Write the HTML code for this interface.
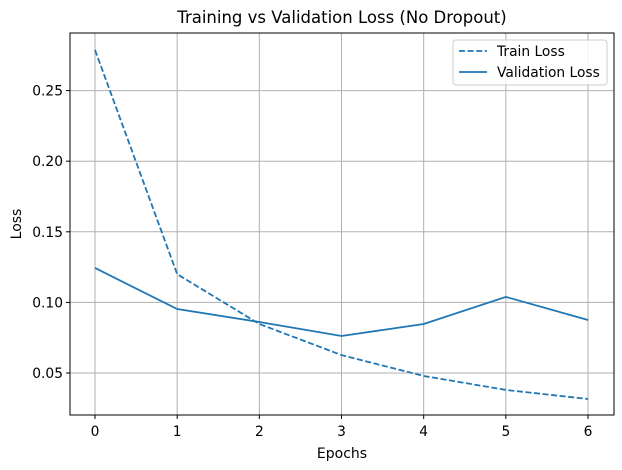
<!DOCTYPE html>
<html><head><meta charset="utf-8"><style>
body{margin:0;background:#fff;}
svg{display:block;font-family:"DejaVu Sans","Liberation Sans",sans-serif;}
</style></head><body>
<svg id="chart" width="622" height="470">
<rect x="0" y="0" width="622" height="470" fill="#fff"/>
<g id="grid"></g>
<g id="lines"></g>
<g id="axes"></g>
<text x="342" y="23" font-size="16.5" text-anchor="middle">Training vs Validation Loss (No Dropout)</text>
<text x="342" y="458" font-size="14" text-anchor="middle">Epochs</text>
<text x="21" y="224" font-size="14" text-anchor="middle" transform="rotate(-90 21 224)">Loss</text>
<g>
<rect x="453" y="40" width="154" height="45" rx="3" fill="#fff" fill-opacity="0.8" stroke="#ccc"/>
<line x1="459" y1="51" x2="487" y2="51" stroke="#1f77b4" stroke-width="1.8" stroke-dasharray="6,2.6"/>
<text x="497" y="56" font-size="13.8">Train Loss</text>
<line x1="459" y1="72" x2="487" y2="72" stroke="#1f77b4" stroke-width="1.8"/>
<text x="497" y="77" font-size="13.8">Validation Loss</text>
</g>
</svg>
<script>
const epochs=[0,1,2,3,4,5,6];
const trainLoss=[0.2788,0.120,0.0847,0.0627,0.0479,0.038,0.0316];
const valLoss=[0.1244,0.0953,0.0861,0.0762,0.0847,0.1039,0.0875];
const yTicks=[0.05,0.10,0.15,0.20,0.25];
const yTickLabels=["0.05","0.10","0.15","0.20","0.25"];
const L=70,R=614,T=33,B=415;
const xs=e=>95+e*82.17;
const ys=v=>443.6-v*1412;
const NS="http://www.w3.org/2000/svg";
function mk(tag,attrs,parent){const el=document.createElementNS(NS,tag);for(const k in attrs)el.setAttribute(k,attrs[k]);parent.appendChild(el);return el;}
const grid=document.getElementById('grid'),axes=document.getElementById('axes'),lines=document.getElementById('lines');
epochs.forEach(e=>{
 const g=mk('line',{x1:xs(e),x2:xs(e),y1:T,y2:B,stroke:'#b0b0b0','stroke-width':1},grid);
 
 
 mk('line',{x1:xs(e),x2:xs(e),y1:B,y2:B+4,stroke:'#000','stroke-width':1},axes);
 const t=mk('text',{x:xs(e),y:B+21,'font-size':13.8,'text-anchor':'middle'},axes);t.textContent=e;
 
 
});
yTicks.forEach((v,i)=>{
 const g=mk('line',{x1:L,x2:R,y1:ys(v),y2:ys(v),stroke:'#b0b0b0','stroke-width':1},grid);
 
 
 mk('line',{x1:L-4,x2:L,y1:ys(v),y2:ys(v),stroke:'#000','stroke-width':1},axes);
 const t=mk('text',{x:L-7,y:ys(v)+5,'font-size':13.8,'text-anchor':'end'},axes);t.textContent=yTickLabels[i];
 
 
});
const fr=mk('rect',{x:L,y:T,width:R-L,height:B-T,fill:'none',stroke:'#000','stroke-width':1},axes);


const pts=a=>a.map((v,i)=>xs(epochs[i])+','+ys(v)).join(' ');
const tl=mk('polyline',{points:pts(trainLoss),fill:'none',stroke:'#1f77b4','stroke-width':1.8,'stroke-dasharray':'6,2.6'},lines);


const vl=mk('polyline',{points:pts(valLoss),fill:'none',stroke:'#1f77b4','stroke-width':1.8},lines);


</script>
</body></html>
